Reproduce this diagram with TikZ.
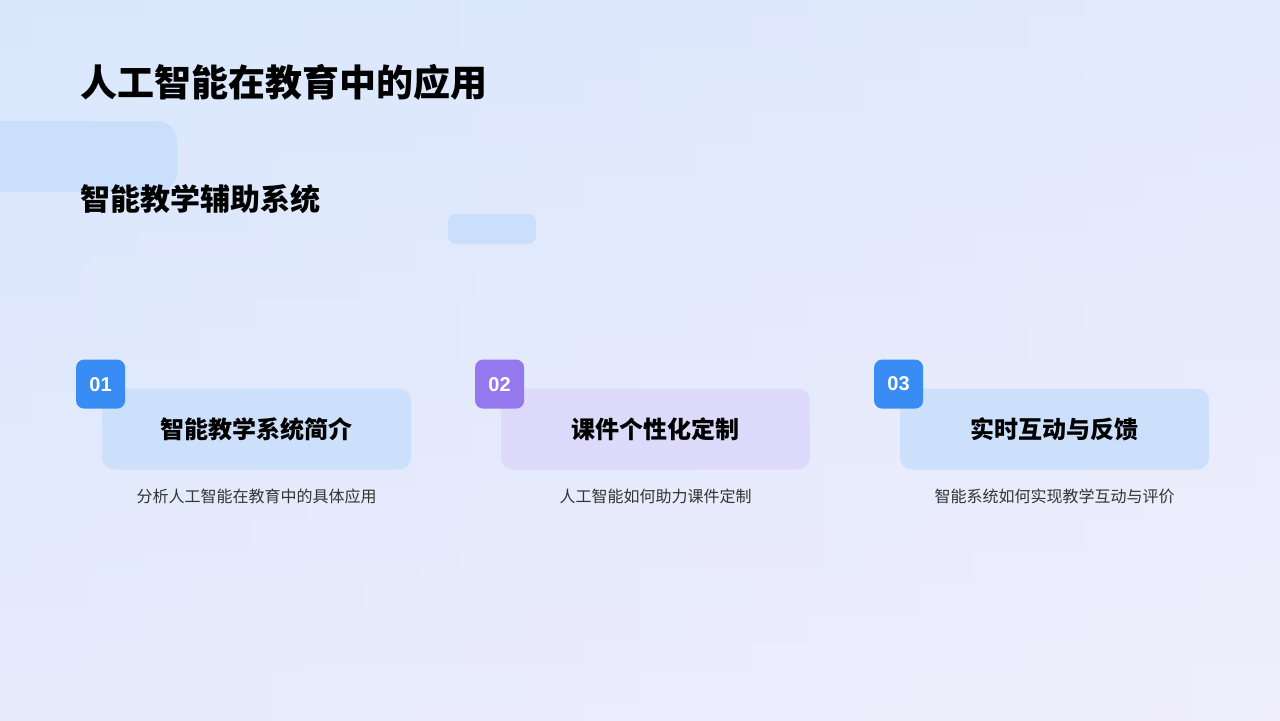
\documentclass[tikz,border=0pt]{standalone}
\usepackage{fontspec}
\setmainfont{Noto Sans CJK SC}
\newfontfamily\cjk{Noto Sans CJK SC}
\newfontfamily\numfont{Liberation Sans}
\usetikzlibrary{positioning}
\definecolor{bgA}{HTML}{D9E7FC}
\definecolor{bgB}{HTML}{F0EEFC}
\definecolor{deco}{HTML}{CADFFB}
\definecolor{cardblue}{HTML}{CCE0FC}
\definecolor{cardpurple}{HTML}{DEDAFB}
\definecolor{badgeblue}{HTML}{3A8CF5}
\definecolor{badgepurple}{HTML}{9479EE}
\definecolor{desctext}{HTML}{333333}

\begin{document}
\begin{tikzpicture}[
    x=0.5pt, y=-0.5pt,
    % styles
    card/.style={rounded corners=6pt, minimum width=154.5pt, minimum height=40.5pt, inner sep=0pt,
      font=\cjk\bfseries\fontsize{12}{14}\selectfont},
    badge/.style={rounded corners=4pt, minimum size=24.5pt, inner sep=0pt, text=white,
      font=\numfont\bfseries\fontsize{10}{12}\selectfont},
    desc/.style={font=\cjk\fontsize{8}{10}\selectfont, text=desctext}
  ]
  % --- background ---
  \shade[left color=bgA, right color=bgB] (0,0) rectangle (1280,720);
  \shade[top color=bgA, bottom color=bgB, opacity=0.6] (0,0) rectangle (1280,720);
  \useasboundingbox (0,0) rectangle (1280,720);

  % --- decorations ---
  \fill[deco, rounded corners=10pt] (-20,121) rectangle (177,192);
  \fill[deco, rounded corners=4pt] (448,214) rectangle (536,244);

  % --- titles ---
  \node[anchor=west, font=\cjk\bfseries\fontsize{18.5}{22}\selectfont] (title) at (73,82) {人工智能在教育中的应用};
  \node[anchor=west, font=\cjk\bfseries\fontsize{15}{18}\selectfont] (subtitle) at (73,199) {智能教学辅助系统};

  % --- cards ---
  \foreach \i/\cx/\cc/\bc/\num/\head/\txt in {
      1/256.5/cardblue/badgeblue/01/智能教学系统简介/分析人工智能在教育中的具体应用,
      2/655.5/cardpurple/badgepurple/02/课件个性化定制/人工智能如何助力课件定制,
      3/1054.5/cardblue/badgeblue/03/实时互动与反馈/智能系统如何实现教学互动与评价} {
    \node[card, fill=\cc] (card\i) at (\cx,429) {\head};
    \node[badge, fill=\bc, xshift=-0.5pt, yshift=2pt] (badge\i) at (card\i.north west) {\num};
    \node[desc] (desc\i) at (\cx,496) {\txt};
  }
\end{tikzpicture}
\end{document}
